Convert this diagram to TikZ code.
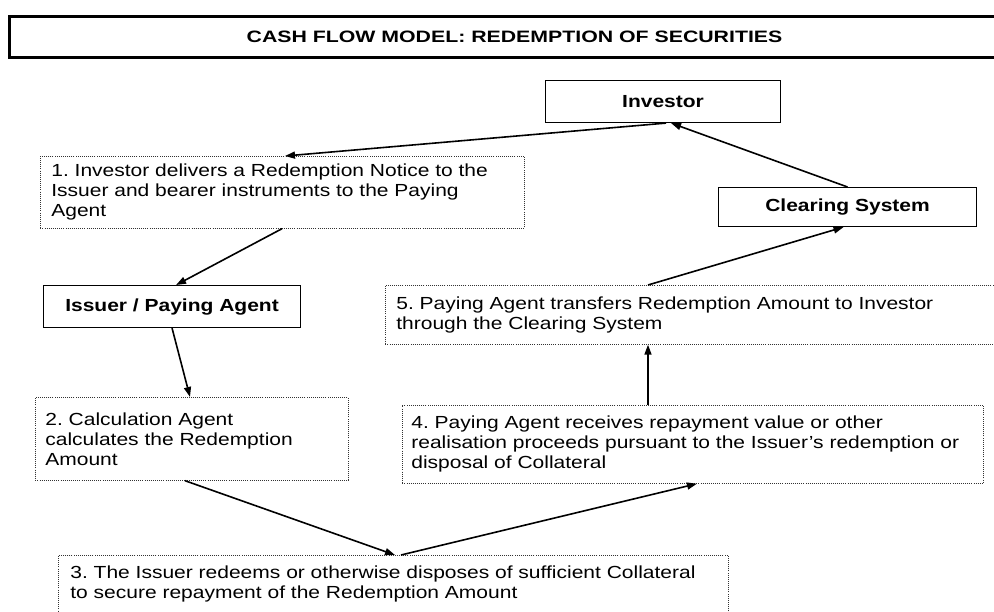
\documentclass[tikz,border=0pt]{standalone}
\usepackage{fontspec}
\setmainfont{Liberation Sans}[FakeStretch=1.2]
\newfontfamily\titlefont{Liberation Sans}[FakeStretch=1.29]
\usetikzlibrary{arrows.meta}
\frenchspacing
\begin{document}
\begin{tikzpicture}[x=1pt,y=-1pt,
  txt/.style={font=\frenchspacing\fontsize{17.5}{20}\selectfont},
  stepbox/.style={draw=black!80, dash pattern=on 1pt off 1.1pt, line width=0.7pt,
     anchor=north west, align=left, inner xsep=11pt, inner ysep=0pt, txt},
  actor/.style={draw=black, line width=1.1pt, anchor=north west, inner sep=0pt,
     font=\fontsize{17.5}{20}\selectfont\bfseries},
  flow/.style={line width=1.6pt, -{Triangle[length=10pt,width=7pt]}}]
\useasboundingbox (0,0) rectangle (994,612);
\clip (0,0) rectangle (994,612);
\fill[white] (0,0) rectangle (994,612);
% title
\node[draw, line width=3pt, anchor=north west, minimum width=1010pt, minimum height=41pt,
  inner sep=0pt, font=\titlefont\fontsize{16.5}{18}\selectfont\bfseries] (title) at (8,15)
  {CASH FLOW MODEL: REDEMPTION OF SECURITIES};
% actors
\node[actor, minimum width=235pt, minimum height=42pt] (inv) at (545,80) {Investor};
\node[actor, minimum width=258pt, minimum height=39pt] (cs) at (718,187) {Clearing System};
\node[actor, minimum width=257pt, minimum height=42pt] (ip) at (43,285) {Issuer / Paying Agent};
% steps
\node[stepbox, text width=462pt, minimum height=72pt] (b1) at (40,156)
  {1. Investor delivers a Redemption Notice to the\\Issuer and bearer instruments to the Paying\\Agent};
\node[stepbox, inner xsep=10pt, text width=293pt, minimum height=83pt] (b2) at (35,397)
  {2. Calculation Agent\\calculates the Redemption\\Amount};
\node[stepbox, text width=618pt, minimum height=59pt] (b5) at (385,285)
  {5. Paying Agent transfers Redemption Amount to Investor\\through the Clearing System};
\node[stepbox, inner xsep=9pt, text width=563pt, minimum height=78pt] (b4) at (402,405)
  {4. Paying Agent receives repayment value or other\\realisation proceeds pursuant to the Issuer's redemption or\\disposal of Collateral};
\node[stepbox, inner xsep=12pt, text width=646pt, minimum height=58pt] (b3) at (58,555)
  {3. The Issuer redeems or otherwise disposes of sufficient Collateral\\to secure repayment of the Redemption Amount};
% connectors
\draw[flow] ([xshift=3pt]inv.south) -- ([xshift=245pt]b1.north west);
\draw[flow] (cs.north) -- ([xshift=8pt]inv.south);
\draw[flow] ([xshift=242pt]b1.south west) -- ([xshift=4pt]ip.north);
\draw[flow] (ip.south) -- ([xshift=155pt]b2.north west);
\draw[flow] ([xshift=150pt]b2.south west) -- ([xshift=337pt]b3.north west);
\draw[flow] ([xshift=343pt]b3.north west) -- ([xshift=295pt]b4.south west);
\draw[flow] ([xshift=246pt]b4.north west) -- ([xshift=263pt]b5.south west);
\draw[flow] ([xshift=263pt]b5.north west) -- ([xshift=-4pt]cs.south);
\end{tikzpicture}
\end{document}
